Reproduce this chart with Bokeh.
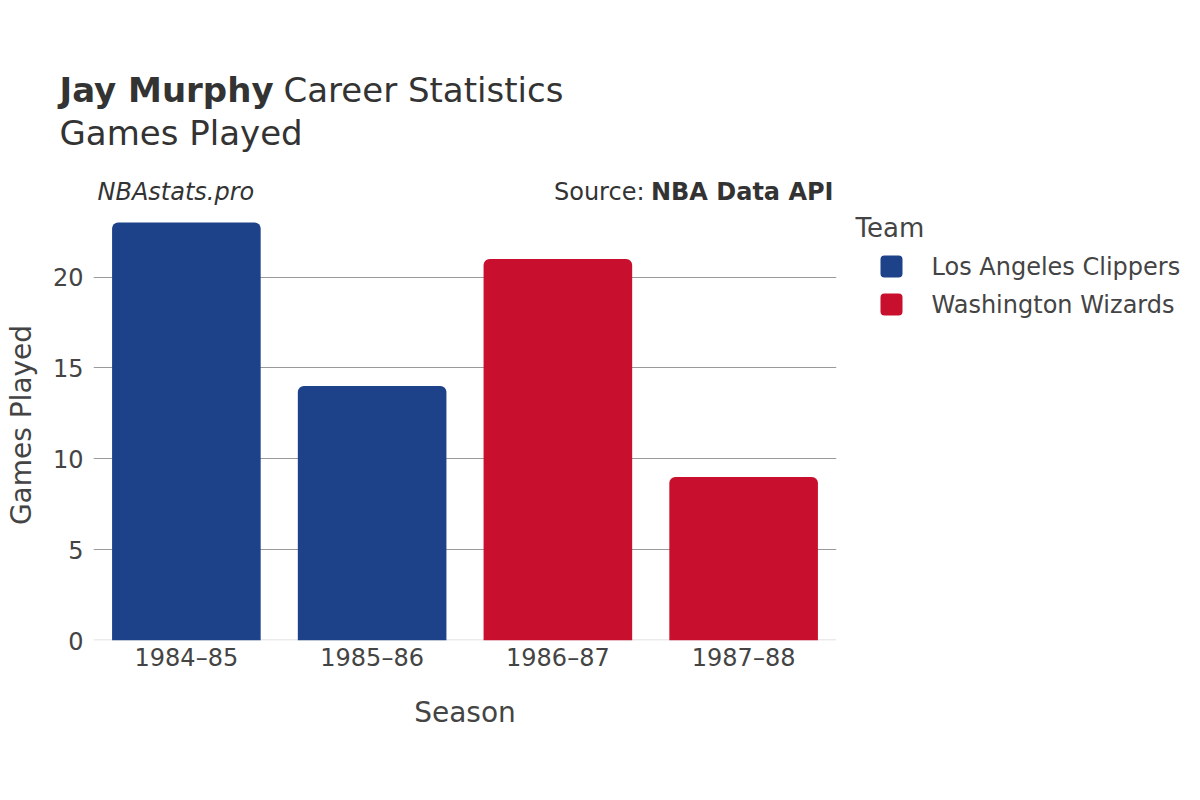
from bokeh.plotting import figure
from bokeh.layouts import row, column
from bokeh.models import (ColumnDataSource, FactorRange, Range1d, FixedTicker, Label, Span)
from bokeh.core.properties import value
from bokeh.embed import file_html
from bokeh.resources import INLINE

# ---- data ----
seasons = ["1984–85", "1985–86", "1986–87", "1987–88"]
games_played = [23, 14, 21, 9]
teams = ["Los Angeles Clippers", "Los Angeles Clippers", "Washington Wizards", "Washington Wizards"]
team_names = ["Los Angeles Clippers", "Washington Wizards"]
team_colors = ["#1D428A", "#C8102E"]
y_ticks = [0, 5, 10, 15, 20]

FONT = "DejaVu Sans"
TXT = "#444444"
DARK = "#333333"

W, H = 1184, 784
LEFT_W = 840
TOP_H = 209


def blank(width, height, x0, y0):
    """Figure whose frame fills it, with data coords equal to page pixels."""
    f = figure(width=width, height=height, x_range=Range1d(x0, x0 + width),
               y_range=Range1d(y0 + height, y0), output_backend="svg", toolbar_location=None,
               min_border=0, x_axis_type=None, y_axis_type=None)
    f.outline_line_color = None
    f.grid.visible = False
    f.frame_align = False
    return f


# ---- header ----
top = blank(LEFT_W, TOP_H, 0, 0)


def lab(f, x, y, text, size, style="normal", align="left", color=DARK):
    f.add_layout(Label(x=x, y=y, text=text, text_font=FONT, text_font_size=size,
                       text_font_style=style, text_color=color, text_align=align,
                       text_baseline="middle"))


lab(top, 59, 89, "Jay Murphy", "34px", "bold")
lab(top, 283, 89, "Career Statistics", "34px")
lab(top, 59, 132, "Games Played", "34px")
lab(top, 97, 191, "NBAstats.pro", "24px", "italic")
lab(top, 833, 191, "NBA Data API", "24px", "bold", "right")
lab(top, 644, 191, "Source:", "24px", "normal", "right")

# ---- main chart ----
color_map = dict(zip(team_names, team_colors))
src = ColumnDataSource(dict(season=seasons, games=games_played, team=teams,
                            color=[color_map[t] for t in teams]))

main_h = H - TOP_H
p = figure(width=LEFT_W, height=main_h, x_range=FactorRange(*seasons), y_range=Range1d(0, 23.72),
           output_backend="svg", toolbar_location=None,
           min_border_left=93, min_border_right=LEFT_W - 836, min_border_top=0,
           min_border_bottom=main_h - (640 - TOP_H))
p.outline_line_color = None
p.add_layout(Span(location=0, dimension="width", line_color="#ebebeb", line_width=3,
                  level="underlay"))
p.vbar(x="season", top="games", width=0.8, source=src, fill_color="color", line_color=None,
       border_radius=(6, 6, 0, 0))

p.xgrid.grid_line_color = None
p.ygrid.grid_line_color = "#9a9a9a"
p.ygrid.grid_line_width = 1
p.yaxis.ticker = FixedTicker(ticks=y_ticks)
for ax in (p.xaxis[0], p.yaxis[0]):
    ax.axis_line_color = None
    ax.major_tick_line_color = None
    ax.minor_tick_line_color = None
    ax.major_label_text_font = FONT
    ax.major_label_text_font_size = "24px"
    ax.major_label_text_color = TXT
    ax.axis_label_text_font = FONT
    ax.axis_label_text_font_size = "28px"
    ax.axis_label_text_font_style = "normal"
    ax.axis_label_text_color = TXT
p.xaxis.axis_label = "Season"
p.yaxis.axis_label = "Games Played"
p.xaxis.major_label_standoff = -3
p.yaxis.major_label_standoff = 4
p.xaxis.axis_label_standoff = 21
p.yaxis.axis_label_standoff = 12

# ---- legend panel ----
leg = blank(W - LEFT_W, H, LEFT_W, 0)
lab(leg, 855, 227, "Team", "26px", color=TXT)
leg_src = ColumnDataSource(dict(
    name=team_names, color=team_colors,
    y=[266 + 38 * i for i in range(len(team_names))],
    x=[891] * len(team_names), tx=[931] * len(team_names)))
leg.rect(x="x", y="y", width=22, height=22, width_units="screen", height_units="screen",
         fill_color="color", line_color=None, border_radius=4, source=leg_src)
leg.text(x="tx", y="y", text="name", source=leg_src, text_font=value(FONT),
         text_font_size="24px", text_color=TXT, text_baseline="middle", text_align="left")

layout = row(column(top, p), leg)
open("out.html", "w").write(file_html(layout, INLINE))
